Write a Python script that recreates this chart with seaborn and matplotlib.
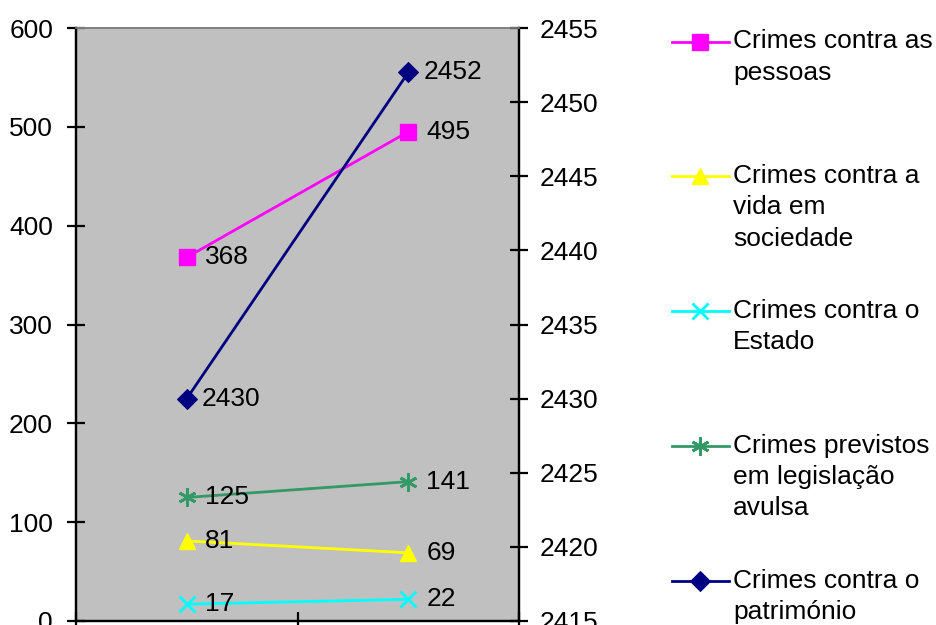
import matplotlib
matplotlib.use("Agg")
import matplotlib.pyplot as plt
import seaborn as sns
import numpy as np
import pandas as pd

# ---- data ----
periods = ["Período 1", "Período 2"]
pessoas = [368, 495]
vida_sociedade = [81, 69]
estado = [17, 22]
legislacao_avulsa = [125, 141]
patrimonio = [2430, 2452]   # secondary (right) axis

left_ticks = [0, 100, 200, 300, 400, 500, 600]
right_ticks = [2415, 2420, 2425, 2430, 2435, 2440, 2445, 2450, 2455]

labels = ["Crimes contra as\npessoas",
          "Crimes contra a\nvida em\nsociedade",
          "Crimes contra o\nEstado",
          "Crimes previstos\nem legislação\navulsa",
          "Crimes contra o\npatrimónio"]

plt.rcParams['font.family'] = ['Liberation Sans', 'DejaVu Sans']
FS = 19

fig = plt.figure(figsize=(9.36, 6.25), dpi=100)
ax = fig.add_axes([76/936, 4/625, (519-76)/936, (621-28)/625])
ax.set_facecolor("#C0C0C0")
ax2 = ax.twinx()

xpos = np.arange(len(periods)) + 0.5

left_series = [
    (pessoas, "#FF00FF", "s", 11.5, 1.0, labels[0]),
    (vida_sociedade, "#FFFF00", "^", 11.5, 1.0, labels[1]),
    (estado, "#00FFFF", "x", 11, 2.0, labels[2]),
    (legislacao_avulsa, "#339966", (6, 2, 0), 13, 2.0, labels[3]),
]

handles = []
for vals, col, mk, ms, mew, lab in left_series:
    df = pd.DataFrame({"x": xpos, "y": vals})
    sns.lineplot(data=df, x="x", y="y", ax=ax, color=col, marker=mk,
                 markersize=ms, markeredgecolor=col, markerfacecolor=col,
                 markeredgewidth=mew, linewidth=2, legend=False)
    handles.append(ax.lines[-1])
    for xv, yv in zip(xpos, vals):
        ax.annotate(str(yv), (xv, yv), xytext=(13, 0), textcoords="offset points",
                    ha="left", va="center", fontsize=FS, color="black")

df2 = pd.DataFrame({"x": xpos, "y": patrimonio})
sns.lineplot(data=df2, x="x", y="y", ax=ax2, color="#000080", marker="D",
             markersize=10, markeredgecolor="#000080", markerfacecolor="#000080",
             linewidth=2, legend=False)
handles.append(ax2.lines[-1])
for xv, yv in zip(xpos, patrimonio):
    ax2.annotate(str(yv), (xv, yv), xytext=(11, 0), textcoords="offset points",
                 ha="left", va="center", fontsize=FS, color="black")

# axes
ax.set_xlim(0, 2)
ax.set_ylim(0, 600)
ax2.set_ylim(2415, 2455)
ax.set_xticks([0, 1, 2])
ax.set_xticklabels([])
ax.set_yticks(left_ticks)
ax.set_yticklabels([str(t) for t in left_ticks])
ax2.set_yticks(right_ticks)
ax2.set_yticklabels([str(t) for t in right_ticks])
ax.set_xlabel("")
ax.set_ylabel("")
ax2.set_ylabel("")
ax2.set_xlabel("")

for a in (ax, ax2):
    for s in a.spines.values():
        s.set_linewidth(1.6)
        s.set_color("black")
    a.spines["top"].set_color("#808080")
    a.spines["top"].set_linewidth(1.2)
ax.tick_params(axis="y", direction="inout", length=13, width=1.6, labelsize=FS, pad=10)
ax.tick_params(axis="x", direction="inout", length=13, width=1.6)
ax2.tick_params(axis="y", direction="inout", length=13, width=1.6, labelsize=FS, pad=8)

# legend: handle aligned with first line of each label
leg_labels = ["\n" * (lab.count("\n")) + lab for lab in labels]
leg = fig.legend(handles, leg_labels, loc="upper left",
                 bbox_to_anchor=(672/936, 1.003), frameon=False, fontsize=FS,
                 handlelength=2.15, handletextpad=0.16, labelspacing=0.65,
                 borderpad=0, borderaxespad=0, numpoints=1)
for t in leg.get_texts():
    t.set_linespacing(1.38)

fig.savefig("out.png", dpi=100)
